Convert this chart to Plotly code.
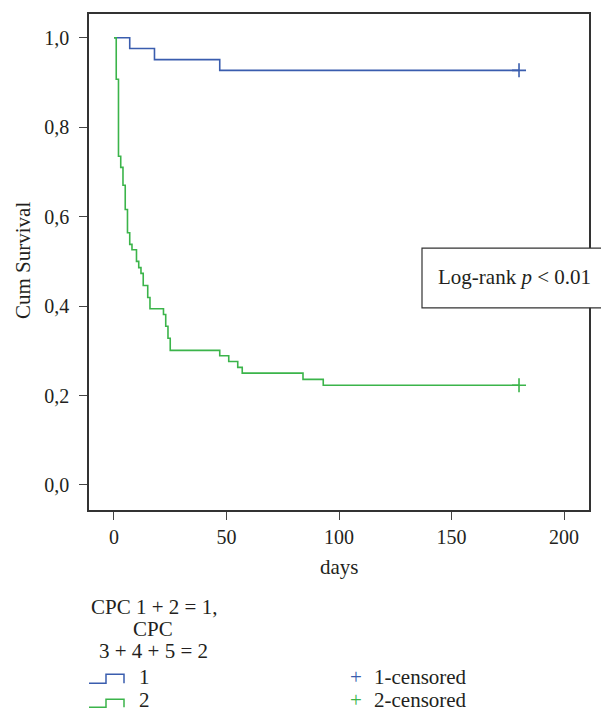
import plotly.graph_objects as go

# ---- data ----
blue_days = [0, 7, 18, 47, 180]
blue_surv = [1.0, 0.976, 0.951, 0.927, 0.927]
blue_censor_days = [180]
blue_censor_surv = [0.927]

green_days = [0, 1, 2, 3, 4, 5, 6, 7, 8, 10, 11, 12, 13, 15, 16, 22, 23, 24, 25,
              47, 51, 55, 57, 84, 93, 180]
green_surv = [1.0, 0.907, 0.735, 0.710, 0.670, 0.616, 0.564, 0.538, 0.526, 0.500,
              0.486, 0.473, 0.446, 0.419, 0.394, 0.381, 0.355, 0.328, 0.301,
              0.289, 0.276, 0.263, 0.250, 0.236, 0.223, 0.223]
green_censor_days = [180]
green_censor_surv = [0.223]

x_ticks = [0, 50, 100, 150, 200]
y_ticks = [0.0, 0.2, 0.4, 0.6, 0.8, 1.0]

BLUE = "#3A5DAE"
GREEN = "#3BB44A"
FONT = "Liberation Serif"
FS = 21
TFS = 20
TXT = "#231F20"

# page has an 8px body margin; compensate so the figure lands like the reference
OFF = 8
W, H = 609 - OFF, 714 - OFF
# plot-area edges in page pixels
L, R, T, B = 89, 589, 12, 510


def px(x):
    return (x - L) / (R - L)


def py(y):
    return (B - y) / (B - T)


fig = go.Figure()
fig.add_trace(go.Scatter(x=blue_days, y=blue_surv, mode="lines",
                         line=dict(shape="hv", color=BLUE, width=1.6),
                         showlegend=False, hoverinfo="skip"))
fig.add_trace(go.Scatter(x=green_days, y=green_surv, mode="lines",
                         line=dict(shape="hv", color=GREEN, width=1.6),
                         showlegend=False, hoverinfo="skip"))
fig.add_trace(go.Scatter(x=blue_censor_days, y=blue_censor_surv, mode="markers",
                         marker=dict(symbol="cross-thin", size=10,
                                     line=dict(color=BLUE, width=1.6)),
                         showlegend=False, hoverinfo="skip"))
fig.add_trace(go.Scatter(x=green_censor_days, y=green_censor_surv, mode="markers",
                         marker=dict(symbol="cross-thin", size=10,
                                     line=dict(color=GREEN, width=1.6)),
                         showlegend=False, hoverinfo="skip"))

axis_common = dict(showgrid=False, zeroline=False, showline=True, mirror=True,
                   linecolor="#333333", linewidth=1.5, ticks="outside",
                   tickcolor="#444444", tickwidth=1.3,
                   tickfont=dict(family=FONT, size=TFS, color=TXT))

fig.update_xaxes(range=[-11.1, 211.1], tickvals=x_ticks, ticklen=8, **axis_common)
fig.update_yaxes(range=[-0.056, 1.053], tickvals=y_ticks, tickformat=".1f",
                 ticklen=8, ticklabelstandoff=6, **axis_common)

shapes = []
# Log-rank box
shapes.append(dict(type="rect", xref="paper", yref="paper",
                   x0=px(422), x1=px(615), y0=py(307), y1=py(247),
                   line=dict(color="#333333", width=1.2), fillcolor="white",
                   layer="above"))


def step_icon(x0, ybot, ytop, color):
    xm = x0 + 17
    x1 = x0 + 35
    path = (f"M {px(x0)},{py(ybot)} L {px(xm)},{py(ybot)} L {px(xm)},{py(ytop)} "
            f"L {px(x1)},{py(ytop)} L {px(x1)},{py(ybot)}")
    return dict(type="path", xref="paper", yref="paper", path=path,
                line=dict(color=color, width=1.5))


shapes.append(step_icon(89, 684, 675, BLUE))
shapes.append(step_icon(89, 708, 700, GREEN))

ann = []
ann.append(dict(text="Log-rank <i>p</i> < 0.01", xref="paper", yref="paper",
                x=px(436), y=py(276), xanchor="left", yanchor="middle",
                showarrow=False, font=dict(family=FONT, size=FS, color=TXT)))
ann.append(dict(text="days", xref="paper", yref="paper", x=px(339), y=py(567),
                xanchor="center", yanchor="middle", showarrow=False,
                font=dict(family=FONT, size=FS, color=TXT)))
ann.append(dict(text="Cum Survival", xref="paper", yref="paper", x=px(23), y=py(260),
                xanchor="center", yanchor="middle", textangle=-90, showarrow=False,
                font=dict(family=FONT, size=FS, color=TXT)))
legend_lines = [("CPC 1 + 2 = 1,", 89, 607, "left"),
                ("CPC", 153, 629, "center"),
                ("3 + 4 + 5 = 2", 97, 652, "left"),
                ("1", 137, 678, "left"),
                ("2", 137, 701, "left"),
                ("1-censored", 372, 678, "left"),
                ("2-censored", 372, 701, "left")]
for t, x, y, a in legend_lines:
    ann.append(dict(text=t, xref="paper", yref="paper", x=px(x), y=py(y),
                    xanchor=a, yanchor="middle", showarrow=False,
                    font=dict(family=FONT, size=FS, color=TXT)))
ann.append(dict(text="+", xref="paper", yref="paper", x=px(356), y=py(678),
                xanchor="center", yanchor="middle", showarrow=False,
                font=dict(family=FONT, size=FS, color=BLUE)))
ann.append(dict(text="+", xref="paper", yref="paper", x=px(356), y=py(701),
                xanchor="center", yanchor="middle", showarrow=False,
                font=dict(family=FONT, size=FS, color=GREEN)))

fig.update_layout(width=W, height=H,
                  margin=dict(l=L - OFF, r=W - (R - OFF), t=T - OFF, b=H - (B - OFF)),
                  plot_bgcolor="white", paper_bgcolor="white",
                  separators=",.", shapes=shapes, annotations=ann,
                  font=dict(family=FONT, size=FS, color=TXT))

fig.write_html("out.html")
